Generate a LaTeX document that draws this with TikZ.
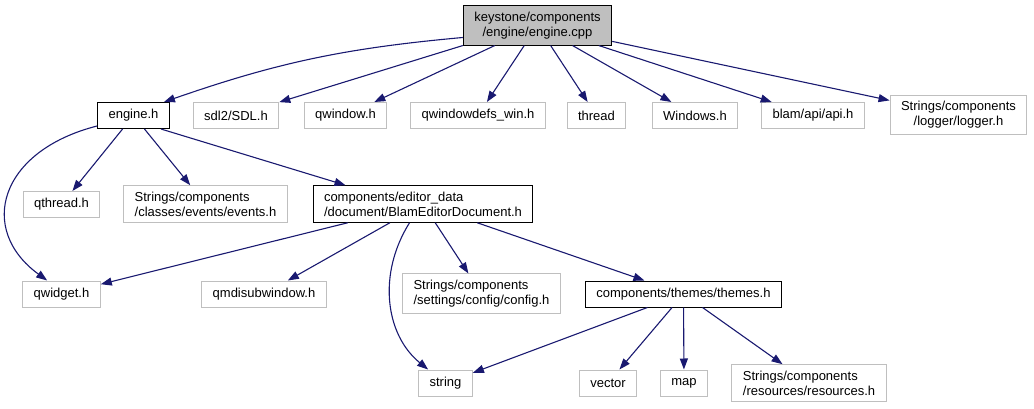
\documentclass[tikz,border=0pt]{standalone}
\usepackage{fontspec}
\setmainfont{Liberation Sans}
\usetikzlibrary{arrows.meta}

\definecolor{edgeblue}{HTML}{191970}
\definecolor{boxgray}{HTML}{BFBFBF}

\begin{document}
\begin{tikzpicture}[x=1pt, y=-1pt,
        font=\fontsize{13}{15}\selectfont,
        box/.style={draw, rectangle, line width=1pt, inner xsep=11pt, inner ysep=6pt,
                    minimum height=26pt, align=center},
        srcbox/.style={box, fill=boxgray},
        extbox/.style={box, draw=boxgray},
        dep/.style={draw=edgeblue, line width=1.1pt,
                    -{Triangle[length=11pt, width=8pt, fill=edgeblue]}}]
        \useasboundingbox (0,0) rectangle (1034,409);

        % Files
        \node[srcbox] (root) at (537.5,25.5) {keystone/components\\/engine/engine.cpp};

        \node[box] (engine) at (133.5,115.5) {engine.h};
        \node[extbox] (sdl) at (236,115.5) {sdl2/SDL.h};
        \node[extbox] (qwindow) at (345.5,115.5) {qwindow.h};
        \node[extbox] (qwindefs) at (478,115.5) {qwindowdefs\_win.h};
        \node[extbox] (thread) at (596.5,115.5) {thread};
        \node[extbox] (windows) at (695,115.5) {Windows.h};
        \node[extbox] (blam) at (813,115.5) {blam/api/api.h};
        \node[extbox] (logger) at (958.5,115) {Strings/components\\/logger/logger.h};

        \node[extbox] (qthread) at (61.5,204.5) {qthread.h};
        \node[extbox, align=left] (events) at (205.5,204) {Strings/components\\/classes/events/events.h};
        \node[box, align=left] (editordoc) at (423,204) {components/editor\_data\\/document/BlamEditorDocument.h};

        \node[extbox] (qwidget) at (61.5,294) {qwidget.h};
        \node[extbox] (qmdi) at (264,294) {qmdisubwindow.h};
        \node[extbox, align=left] (config) at (481.5,293.5) {Strings/components\\/settings/config/config.h};
        \node[box] (themes) at (683.5,294) {components/themes/themes.h};

        \node[extbox] (string) at (445.5,383) {string};
        \node[extbox] (vector) at (608,383) {vector};
        \node[extbox] (map) at (684,383) {map};
        \node[extbox, align=left] (resources) at (809,383) {Strings/components\\/resources/resources.h};

        % Includes
        \draw[dep] ([yshift=-12pt]root.west) to[bend right=7] ([xshift=-6pt]engine.north east);
        \draw[dep] (root.south west) -- (sdl);
        \draw[dep] (root) -- (qwindow);
        \draw[dep] (root) -- (qwindefs);
        \draw[dep] (root) -- (thread);
        \draw[dep] (root) -- (windows);
        \draw[dep] (root) -- (blam);
        \draw[dep] (root) -- (logger);

        \draw[dep] ([yshift=3pt]engine.south west) .. controls +(-98,25) and +(-70,-51) .. ([xshift=25pt]qwidget.north west);
        \draw[dep] (engine) -- (qthread);
        \draw[dep] (engine) -- (events);
        \draw[dep] ([xshift=-9pt]engine.south east) -- ([xshift=33pt]editordoc.north west);

        \draw[dep] (editordoc) -- (qwidget);
        \draw[dep] (editordoc) -- (qmdi);
        \draw[dep] ([xshift=97pt]editordoc.south west) .. controls +(-32,51) and +(-43,-35) .. ([xshift=10pt]string.north west);
        \draw[dep] (editordoc) -- (config);
        \draw[dep] (editordoc) -- (themes);

        \draw[dep] (themes) -- (string);
        \draw[dep] (themes) -- (vector);
        \draw[dep] (themes) -- (map);
        \draw[dep] (themes) -- (resources);
    \end{tikzpicture}
\end{document}
